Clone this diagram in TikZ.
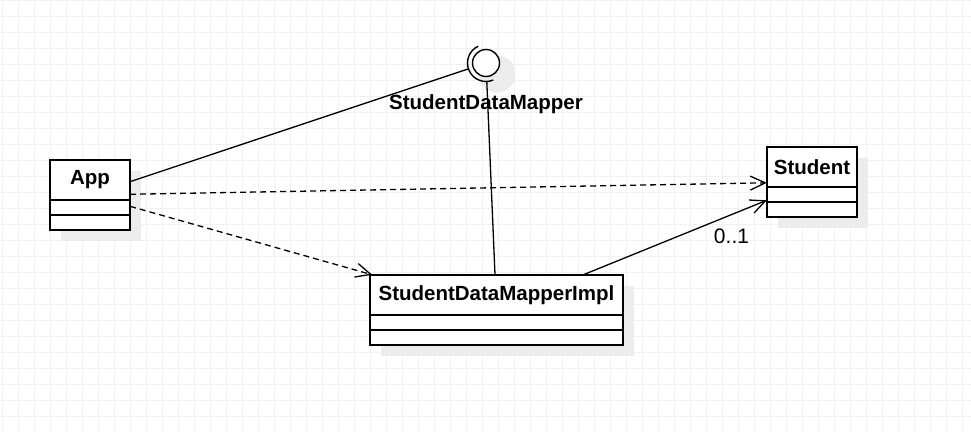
\documentclass[tikz,border=0pt]{standalone}
\usepackage{fontspec}
\setmainfont{Liberation Sans}
\usetikzlibrary{arrows.meta, positioning, fit, shadows}
\definecolor{gridc}{RGB}{241,241,241}
\definecolor{shadowc}{RGB}{236,236,236}
\begin{document}
\begin{tikzpicture}[x=1pt, y=-1pt,
    font=\fontsize{21}{24}\selectfont,
    shade/.style={drop shadow={shadow xshift=11pt, shadow yshift=-11pt, fill=shadowc, opacity=1}},
    cls/.style={draw, fill=white, line width=1.6pt, outer sep=0pt, inner sep=0pt,
        minimum width=#1, minimum height=40pt, font=\fontsize{20.5}{24}\selectfont\bfseries, shade},
    part/.style={draw, fill=white, line width=1.6pt, outer sep=0pt, inner sep=0pt,
        minimum width=#1, minimum height=15pt, shade},
    link/.style={line width=1.3pt},
    dep/.style={link, dash pattern=on 6pt off 4pt, -{Straight Barb[length=15pt, width=14pt]}},
    assoc/.style={link, -{Straight Barb[length=15pt, width=14pt]}}]
    \useasboundingbox (0,0) rectangle (971,431);
    \fill[white] (0,0) rectangle (971,431);
    \foreach \gx in {2,18,...,962} \draw[gridc] (\gx,0) -- (\gx,431);
    \foreach \gy in {0,16,...,416} \draw[gridc] (0,\gy) -- (971,\gy);

    \node[cls=80pt] (app) at (90,180) {App};
    \node[part=80pt, below=0pt of app] (appa) {};
    \node[part=80pt, below=0pt of appa] (appo) {};
    \node[fit=(app)(appo), inner sep=0pt] (appbox) {};

    \node[cls=90pt] (st) at (812,167) {Student};
    \node[part=90pt, below=0pt of st] (sta) {};
    \node[part=90pt, below=0pt of sta] (sto) {};
    \node[fit=(st)(sto), inner sep=0pt] (stbox) {};

    \node[cls=253pt] (impl) at (496.5,295) {StudentDataMapperImpl};
    \node[part=253pt, below=0pt of impl] (impla) {};
    \node[part=253pt, below=0pt of impla] (implo) {};
    \node[fit=(impl)(implo), inner sep=0pt] (implbox) {};

    \fill[shadowc] (497,74) circle[radius=18.5];
    \node[circle, draw, fill=white, line width=1.4pt, minimum size=27pt, inner sep=0pt] (sdmball) at (486,63) {};
    \node[circle, minimum size=37pt, inner sep=0pt] (sdm) at (486,63) {};
    \draw[line width=1.4pt] (sdm.center) ++(-115:18.5) arc[start angle=-115, end angle=-293, radius=18.5];
    \node[anchor=base, font=\fontsize{20.5}{24}\selectfont\bfseries] (sdmlabel) at (486,109) {StudentDataMapper};

    \draw[link] (appbox) -- (sdm);
    \draw[link] (implbox) -- (sdm);
    \draw[dep] (appbox) -- (stbox);
    \draw[dep] (appbox) -- (implbox);
    \draw[assoc] (implbox) -- (stbox);
    \node (mult) at (731.5,236.5) {0..1};
\end{tikzpicture}
\end{document}
